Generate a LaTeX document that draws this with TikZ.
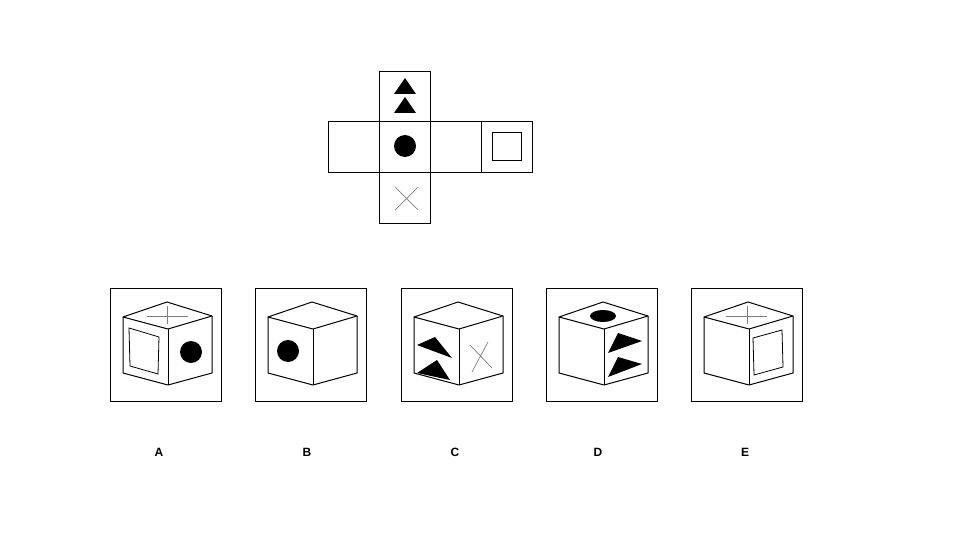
\documentclass[tikz,border=0pt]{standalone}
\usepackage{fontspec}
\setmainfont{Liberation Sans}
\begin{document}
\begin{tikzpicture}[x=1pt,y=-1pt,
  sq/.style={draw,line width=0.8pt},
  edge/.style={draw,line width=1pt,line join=round},
  gry/.style={draw=gray,line width=0.7pt},
  lab/.style={font=\bfseries\large}]
\useasboundingbox (0,0) rectangle (960,540);
\newcommand{\cubeat}[2]{%
  \begin{scope}[shift={(#1,#2)}]
  \draw[sq] (0,0) rectangle (111,113);
  \draw[edge] (57,14) -- (13,29) -- (58,41) -- (102,28) -- cycle;
  \draw[edge] (13,29) -- (13,85) -- (58,97) -- (102,85) -- (102,28);
  \draw[edge] (58,41) -- (58,97);
  \end{scope}}
% net
\draw[sq] (379,71) rectangle (430,121);
\draw[sq] (328,121) rectangle (379,172);
\draw[sq] (379,121) rectangle (430,172);
\draw[sq] (430,121) rectangle (481,172);
\draw[sq] (481,121) rectangle (532,172);
\draw[sq] (379,172) rectangle (430,223);
\fill (405,78) -- (394,94) -- (416,94) -- cycle;
\fill (405,97) -- (394,113) -- (416,113) -- cycle;
\fill (405,146) circle (11);
\draw[sq] (492,132) rectangle (521,160);
\draw[gry] (395,187) -- (418,210) (418,187) -- (395,210);
% options
\cubeat{110}{288}
\cubeat{255}{288}
\cubeat{401}{288}
\cubeat{546}{288}
\cubeat{691}{288}
% A
\draw[gry] (147,316) -- (188,316) (167,306) -- (167,324);
\draw[sq] (129,328) -- (159,337) -- (158,374) -- (130,366) -- cycle;
\fill (191,352) circle (11);
% B
\fill (288,351) circle (11);
% C
\fill (417,345) -- (435,337) -- (452,358) -- cycle;
\fill (417,373) -- (437,360) -- (450,380) -- cycle;
\draw[gry] (470,345) -- (492,368) (488,342) -- (472,372);
% D
\fill (603,316) ellipse (13 and 6);
\fill (618,333) -- (642,341) -- (608,353) -- cycle;
\fill (618,357) -- (642,364) -- (608,377) -- cycle;
% E
\draw[gry] (726,316) -- (767,316) (747,306) -- (747,324);
\draw[sq] (753,338) -- (782,330) -- (783,367) -- (754,375) -- cycle;
% labels
\node[lab] (la) at (159,452) {A};
\node[lab] (lb) at (307,452) {B};
\node[lab] (lc) at (455,452) {C};
\node[lab] (ld) at (598,452) {D};
\node[lab] (le) at (745,452) {E};
\end{tikzpicture}
\end{document}
